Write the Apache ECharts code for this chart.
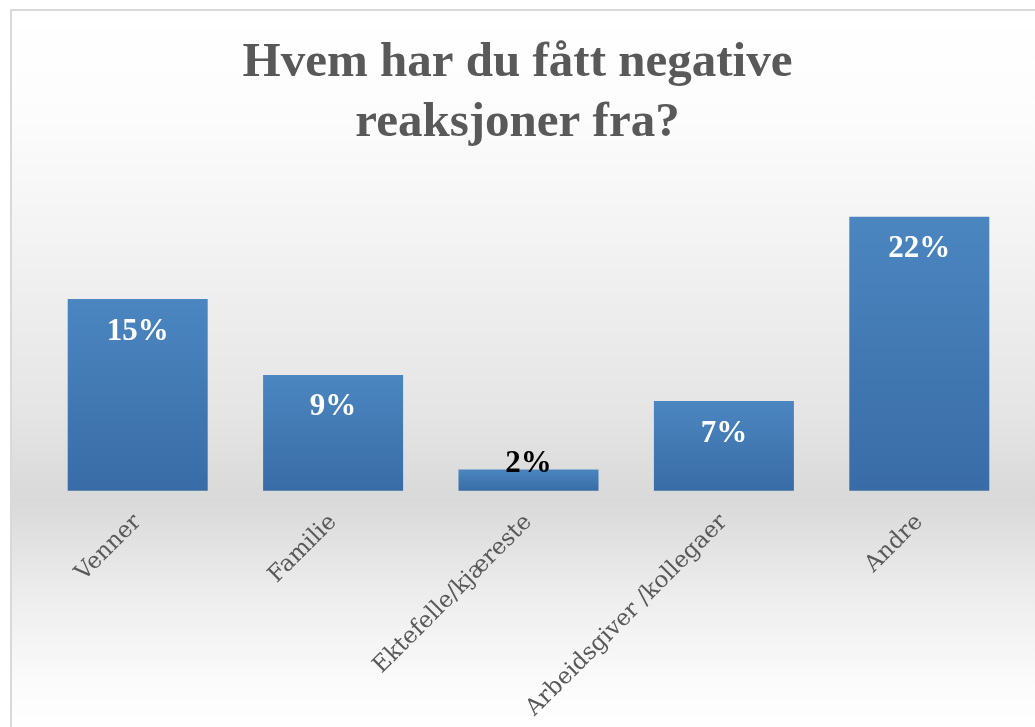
<!DOCTYPE html>
<html>
<head>
<meta charset="utf-8">
<script src="https://cdn.jsdelivr.net/npm/echarts@6/dist/echarts.min.js"></script>
<style>
  html, body { margin: 0; padding: 0; background: #fff; overflow: hidden; }
  #chart { width: 1035px; height: 727px; }
</style>
</head>
<body>
<div id="chart"></div>
<script>
// 数据
const categories = ['Venner', 'Familie', 'Ektefelle/kjæreste', 'Arbeidsgiver /kollegaer', 'Andre']
const shares = [0.154, 0.093, 0.017, 0.072, 0.22]
const titleText = 'Hvem har du fått negative\nreaksjoner fra?'

const chart = echarts.init(document.getElementById('chart'))

// 背景渐变 (y 10..730)
const bgFill = new echarts.graphic.LinearGradient(0, 0, 0, 1, [
  { offset: 0, color: '#ffffff' },
  { offset: 0.15, color: '#fcfcfc' },
  { offset: 0.26, color: '#f6f6f6' },
  { offset: 0.38, color: '#efefef' },
  { offset: 0.55, color: '#e5e5e5' },
  { offset: 0.67, color: '#d9d9d9' },
  { offset: 0.8, color: '#ededed' },
  { offset: 0.93, color: '#fcfcfc' },
  { offset: 1, color: '#ffffff' }
])

const barFill = new echarts.graphic.LinearGradient(0, 0, 0, 1, [
  { offset: 0, color: '#4b86c0' },
  { offset: 1, color: '#396ca6' }
])

const option = {
  backgroundColor: '#ffffff',
  animation: false,
  graphic: [
    {
      type: 'rect',
      z: -10,
      shape: { x: 11, y: 10, width: 1040, height: 730 },
      style: { fill: bgFill, stroke: '#d9d9d9', lineWidth: 2 }
    }
  ],
  title: {
    text: titleText,
    left: 'center',
    top: 28,
    textStyle: {
      fontFamily: 'Liberation Serif',
      fontWeight: 'bold',
      fontSize: 49,
      lineHeight: 60,
      color: '#595959'
    }
  },
  grid: {
    left: 40,
    right: 18,
    top: 179.5,
    bottom: 236.3,
    containLabel: false
  },
  xAxis: {
    type: 'category',
    data: categories,
    axisLine: { show: false },
    axisTick: { show: false },
    axisLabel: {
      rotate: 45,
      margin: 28,
      interval: 0,
      fontFamily: 'DejaVu Serif',
      fontSize: 23,
      color: '#595959'
    }
  },
  yAxis: {
    type: 'value',
    min: 0,
    max: 0.25,
    show: false,
    splitLine: { show: false }
  },
  series: [
    {
      type: 'bar',
      barWidth: 140,
      data: shares.map((v, i) => {
        if (v < 0.03) {
          return {
            value: v,
            label: { position: 'top', distance: -10, color: '#000000' }
          }
        }
        return v
      }),
      itemStyle: { color: barFill },
      label: {
        show: true,
        position: 'insideTop',
        distance: 17,
        formatter: (p) => Math.round(p.value * 100) + '%',
        fontFamily: 'Liberation Serif',
        fontWeight: 'bold',
        fontSize: 31,
        color: '#ffffff'
      }
    }
  ]
}

chart.setOption(option)
</script>
</body>
</html>
